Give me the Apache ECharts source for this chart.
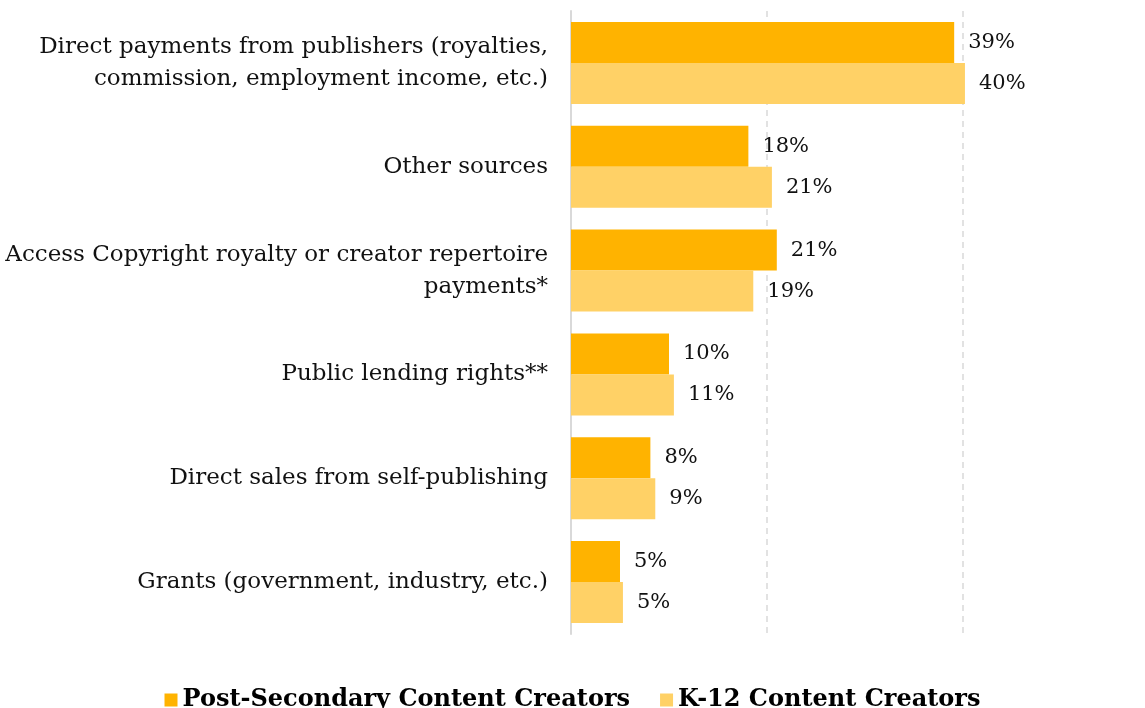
<!DOCTYPE html>
<html><head><meta charset="utf-8">
<script src="https://cdn.jsdelivr.net/npm/echarts@6/dist/echarts.min.js"></script>
<style>html,body{margin:0;padding:0;background:#fff}#c{width:1145px;height:708px}</style>
</head><body><div id="c"></div>
<script>
const categories = [
  "Direct payments from publishers (royalties,\ncommission, employment income, etc.)",
  "Other sources",
  "Access Copyright royalty or creator repertoire\npayments*",
  "Public lending rights**",
  "Direct sales from self-publishing",
  "Grants (government, industry, etc.)"
];
const postSecondary = [39.1, 18.1, 21.0, 10.0, 8.1, 5.0];
const k12 = [40.2, 20.5, 18.6, 10.5, 8.6, 5.3];
const seriesNames = ["Post-Secondary Content Creators", "K-12 Content Creators"];
const colors = ["#FFB300", "#FFD166"];
const FONT = "DejaVu Serif";

const chart = echarts.init(document.getElementById('c'));
const labelCfg = {
  show: true, position: 'right', distance: 14,
  fontFamily: FONT, fontSize: 21, color: '#111',
  formatter: p => Math.round(p.value) + '%'
};
chart.setOption({
  animation: false,
  textStyle: { fontFamily: FONT },
  grid: { left: 571, right: 182, top: 11, bottom: 74 },
  xAxis: {
    type: 'value', min: 0, max: 40, interval: 20,
    axisLabel: { show: false }, axisLine: { show: false }, axisTick: { show: false },
    splitLine: { show: true, lineStyle: { color: '#d9d9d9', type: [6, 5], width: 1.5 } }
  },
  yAxis: {
    type: 'category', data: categories, inverse: true,
    axisTick: { show: false },
    axisLine: { show: true, lineStyle: { color: '#d9d9d9', width: 2 } },
    axisLabel: { fontFamily: FONT, fontSize: 23, color: '#111', margin: 23, lineHeight: 32, align: 'right' }
  },
  legend: {
    bottom: -9, left: 'center', itemWidth: 13, itemHeight: 13, itemGap: 30,
    icon: 'rect',
    textStyle: { fontFamily: FONT, fontSize: 24, fontWeight: 'bold', color: '#000' },
    data: seriesNames
  },
  series: [
    { name: seriesNames[0], type: 'bar', data: postSecondary, barWidth: 41, barGap: '0%', clip: false,
      itemStyle: { color: colors[0] }, label: labelCfg },
    { name: seriesNames[1], type: 'bar', data: k12, barWidth: 41, barGap: '0%', clip: false,
      itemStyle: { color: colors[1] }, label: labelCfg }
  ]
});
</script></body></html>
